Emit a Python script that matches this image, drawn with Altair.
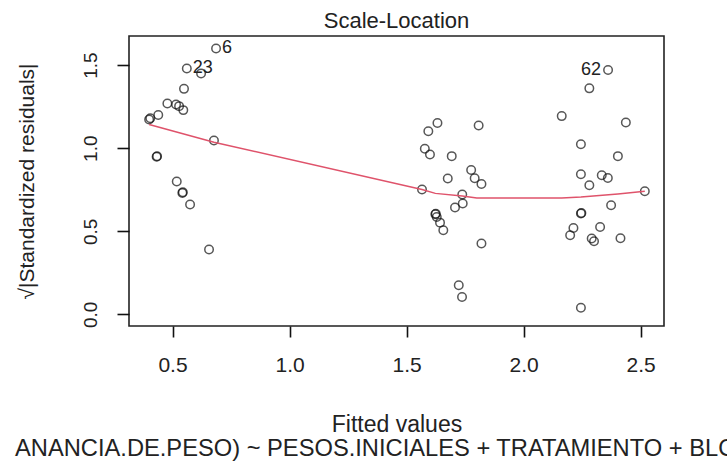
import altair as alt
import pandas as pd

# Fitted values and sqrt(|standardized residuals|) of the linear model
fitted = [
    0.686, 0.561, 0.622, 0.549, 0.478, 0.515, 0.528, 0.546, 0.439, 0.400,
    0.405, 0.677, 0.432, 0.434, 0.518, 0.542, 0.544, 0.575, 0.656,
    1.632, 1.593, 1.808, 1.578, 1.600, 1.693, 1.676, 1.776, 1.791, 1.820,
    1.566, 1.738, 1.740, 1.707, 1.623, 1.625, 1.629, 1.643, 1.657, 1.820,
    1.723, 1.737,
    2.361, 2.281, 2.163, 2.437, 2.245, 2.403, 2.245, 2.281, 2.334, 2.360,
    2.518, 2.374, 2.245, 2.247, 2.213, 2.199, 2.327, 2.291, 2.301, 2.414,
    2.245,
]
sqrt_std_resid = [
    1.600, 1.480, 1.450, 1.357, 1.269, 1.263, 1.253, 1.229, 1.200, 1.173,
    1.180, 1.046, 0.948, 0.951, 0.800, 0.731, 0.735, 0.661, 0.390,
    1.152, 1.102, 1.137, 0.996, 0.962, 0.952, 0.817, 0.869, 0.819, 0.785,
    0.751, 0.721, 0.667, 0.643, 0.602, 0.605, 0.586, 0.552, 0.506, 0.426,
    0.175, 0.104,
    1.470, 1.360, 1.193, 1.155, 1.024, 0.952, 0.843, 0.777, 0.837, 0.821,
    0.741, 0.657, 0.607, 0.610, 0.520, 0.476, 0.526, 0.456, 0.440, 0.458,
    0.040,
]

# Smoothed trend through the points
smooth_x = [0.400, 0.677, 1.566, 1.623, 1.738, 1.800, 2.163, 2.245, 2.403, 2.518]
smooth_y = [1.143, 1.036, 0.751, 0.728, 0.712, 0.700, 0.700, 0.706, 0.725, 0.741]

# Observations flagged with their index
flag_ids = ["6", "23", "62"]
flag_x = [0.686, 0.561, 2.361]
flag_y = [1.600, 1.480, 1.470]
flag_side = ["right", "right", "left"]

# Model formula caption (runs past the right edge of the figure)
caption = "ANANCIA.DE.PESO) ~ PESOS.INICIALES + TRATAMIENTO + BLOQUE)"

FONT = "Liberation Sans"

pts = pd.DataFrame({"fitted": fitted, "resid": sqrt_std_resid})
smooth = pd.DataFrame({"fitted": smooth_x, "resid": smooth_y})
flags = pd.DataFrame({"id": flag_ids, "fitted": flag_x, "resid": flag_y, "side": flag_side})

xscale = alt.Scale(domain=[0.314, 2.60], nice=False, zero=False)
yscale = alt.Scale(domain=[-0.07, 1.675], nice=False, zero=False)

xaxis = alt.Axis(
    title="Fitted values", values=[0.5, 1.0, 1.5, 2.0, 2.5], format=".1f",
    grid=False, domain=False, tickColor="#111", tickWidth=1.6, tickSize=11,
    labelFontSize=21, labelPadding=17, labelColor="#222", labelFont=FONT,
    titleFontSize=23, titleFontWeight="normal", titleFont=FONT, titleColor="#222",
    titlePadding=38,
)
yaxis = alt.Axis(
    title="√|Standardized residuals|", values=[0.0, 0.5, 1.0, 1.5], format=".1f",
    grid=False, domain=False, tickColor="#111", tickWidth=1.6, tickSize=12,
    labelFontSize=19, labelAngle=-90, labelAlign="center", labelBaseline="bottom",
    labelPadding=17, labelColor="#222", labelFont=FONT,
    titleFontSize=21, titleFontWeight="normal", titleFont=FONT, titleColor="#222",
    titlePadding=44,
)

points = alt.Chart(pts).mark_point(
    shape="circle", filled=False, color="#111", size=72, strokeWidth=1.5
).encode(
    x=alt.X("fitted:Q", scale=xscale, axis=xaxis),
    y=alt.Y("resid:Q", scale=yscale, axis=yaxis),
)

trend = alt.Chart(smooth).mark_line(color="#DF536B", strokeWidth=1.5).encode(
    x=alt.X("fitted:Q", scale=xscale),
    y=alt.Y("resid:Q", scale=yscale),
)

right_labels = alt.Chart(flags).transform_filter(
    alt.datum.side == "right"
).mark_text(align="left", baseline="middle", dx=6, fontSize=18, font=FONT, color="#222").encode(
    x=alt.X("fitted:Q", scale=xscale),
    y=alt.Y("resid:Q", scale=yscale),
    text="id:N",
)

left_labels = alt.Chart(flags).transform_filter(
    alt.datum.side == "left"
).mark_text(align="right", baseline="middle", dx=-7, fontSize=18, font=FONT, color="#222").encode(
    x=alt.X("fitted:Q", scale=xscale),
    y=alt.Y("resid:Q", scale=yscale),
    text="id:N",
)

# Caption below the axis title
cap = alt.Chart(pd.DataFrame({"caption": [caption]})).mark_text(
    align="left", baseline="alphabetic", fontSize=23.7, font=FONT, color="#222"
).encode(
    x=alt.value(-114), y=alt.value(420), text="caption:N"
)

chart = alt.layer(points, trend, right_labels, left_labels, cap).properties(
    width=535,
    height=290,
    background="white",
    autosize=alt.AutoSizeParams(type="none"),
    padding={"left": 129, "top": 36, "right": 63, "bottom": 136},
    title=alt.TitleParams(
        "Scale-Location", fontSize=22, font=FONT, fontWeight="normal",
        color="#222", anchor="middle", baseline="alphabetic", offset=9, dy=23,
    ),
).configure_view(
    stroke="#222", strokeWidth=1.6
)

chart.save("out.html", embed_options={"renderer": "svg", "actions": False})
